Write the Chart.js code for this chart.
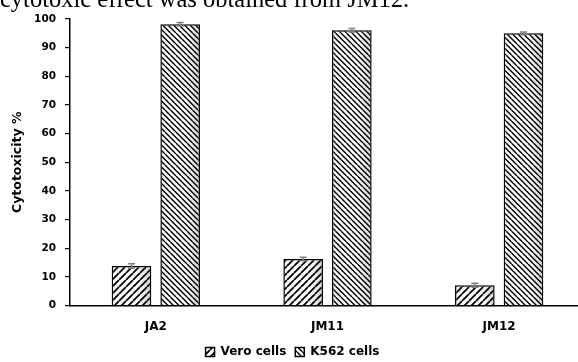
<!DOCTYPE html>
<html>
<head>
<meta charset="utf-8">
<script src="https://cdn.jsdelivr.net/npm/chart.js@4"></script>
<style>
  html, body { margin: 0; padding: 0; background: #fff; overflow: hidden; width: 578px; height: 362px; }
  #wrap { position: relative; width: 578px; height: 362px; overflow: hidden; }
  #chart { position: absolute; left: 0; top: 0; }
  #caption {
    position: absolute; left: 0; top: -13.5px;
    font-family: "Liberation Serif", "Times New Roman", serif;
    font-size: 24.5px; line-height: 24px; white-space: nowrap; color: #000;
  }
</style>
</head>
<body>
<div id="wrap">
  <canvas id="chart" width="585" height="362"></canvas>
  <div id="caption">cytotoxic effect was obtained from JM12.</div>
</div>
<script>
// ---- data ----
const categories = ['JA2', 'JM11', 'JM12'];
const veroValues = [13.8, 16.2, 7.1];
const veroErrors = [0.8, 0.6, 0.7];
const k562Values = [98.2, 96.1, 95.0];
const k562Errors = [0.6, 0.6, 0.5];
const yMax = 100;
const yStep = 10;

const canvas = document.getElementById('chart');
const ctx = canvas.getContext('2d');

// diagonal hatch, '/' or '\' ; tile holds `count` lines so the spacing can be fractional
function hatch(dir, spacing, width, count) {
    const size = Math.round(spacing * count);
    const step = size / count;
    const c = document.createElement('canvas');
    c.width = size;
    c.height = size;
    const g = c.getContext('2d');
    g.fillStyle = '#fff';
    g.fillRect(0, 0, size, size);
    g.strokeStyle = '#000';
    g.lineWidth = width;
    g.beginPath();
    for (let k = -count; k <= count; k++) {
        const x0 = k * step;
        if (dir === '/') {
            g.moveTo(x0, size);
            g.lineTo(x0 + size, 0);
        } else {
            g.moveTo(x0, 0);
            g.lineTo(x0 + size, size);
        }
    }
    g.stroke();
    return ctx.createPattern(c, 'repeat');
}

const boldFont = (size) => ({ family: '"DejaVu Sans", sans-serif', weight: 'bold', size: size });

// light shading on the right side of each bar
const barShade = {
    id: 'barShade',
    afterDatasetsDraw(chart) {
        const c = chart.ctx;
        c.save();
        chart.data.datasets.forEach((ds, i) => {
            chart.getDatasetMeta(i).data.forEach((bar) => {
                const w = bar.width;
                const left = bar.x - w / 2, top = bar.y, h = bar.base - bar.y;
                const grad = c.createLinearGradient(left, 0, left + w, 0);
                grad.addColorStop(0, 'rgba(0,0,0,0.06)');
                grad.addColorStop(0.3, 'rgba(0,0,0,0)');
                grad.addColorStop(0.65, 'rgba(0,0,0,0)');
                grad.addColorStop(1, 'rgba(0,0,0,0.18)');
                c.fillStyle = grad;
                c.fillRect(left + 1.5, top + 1.5, w - 3, h - 1.5);
            });
        });
        c.restore();
    }
};

// error bars drawn from the *Errors arrays
const errorBars = {
    id: 'errorBars',
    afterDatasetsDraw(chart) {
        const c = chart.ctx;
        const y = chart.scales.y;
        c.save();
        c.strokeStyle = '#808080';
        c.lineWidth = 1.5;
        chart.data.datasets.forEach((ds, i) => {
            chart.getDatasetMeta(i).data.forEach((bar, j) => {
                const v = ds.data[j], e = ds.errors[j];
                const yt = y.getPixelForValue(v + e);
                const yb = y.getPixelForValue(v - e);
                c.beginPath();
                c.moveTo(bar.x, yt); c.lineTo(bar.x, yb);
                c.moveTo(bar.x - 3.5, yt); c.lineTo(bar.x + 3.5, yt);
                c.moveTo(bar.x - 3.5, yb); c.lineTo(bar.x + 3.5, yb);
                c.stroke();
            });
        });
        c.restore();
    }
};

new Chart(ctx, {
    type: 'bar',
    data: {
        labels: categories,
        datasets: [
            {
                label: 'Vero cells',
                data: veroValues,
                errors: veroErrors,
                backgroundColor: hatch('/', 7, 1.8, 1),
                borderColor: '#000',
                borderWidth: 1.5
            },
            {
                label: 'K562 cells',
                data: k562Values,
                errors: k562Errors,
                backgroundColor: hatch('\\', 5.5, 1.4, 2),
                borderColor: '#000',
                borderWidth: 1.5
            }
        ]
    },
    options: {
        responsive: false,
        animation: false,
        devicePixelRatio: 1,
        categoryPercentage: 0.567,
        barPercentage: 0.814,
        layout: { padding: { top: 19, right: 0, bottom: -6, left: 0 } },
        plugins: {
            legend: {
                position: 'bottom',
                labels: {
                    boxWidth: 9,
                    boxHeight: 9,
                    padding: 9,
                    color: '#000',
                    font: boldFont(12)
                }
            },
            tooltip: { enabled: false }
        },
        scales: {
            x: {
                grid: { display: false },
                border: { color: '#000', width: 1.5 },
                ticks: { color: '#000', font: boldFont(12), padding: 6 },
                afterFit: (s) => { s.height = 31.5; }
            },
            y: {
                min: 0,
                max: yMax,
                ticks: { stepSize: yStep, color: '#000', font: boldFont(10.5), padding: 9 },
                grid: { drawOnChartArea: false, drawTicks: true, tickLength: 5, color: '#000', lineWidth: 1.2 },
                border: { color: '#000', width: 1.5 },
                title: {
                    display: true,
                    text: 'Cytotoxicity %',
                    color: '#000',
                    font: boldFont(12.5),
                    padding: { top: 10, bottom: 0 }
                },
                afterFit: (s) => { s.width = 70; }
            }
        }
    },
    plugins: [barShade, errorBars]
});
</script>
</body>
</html>
